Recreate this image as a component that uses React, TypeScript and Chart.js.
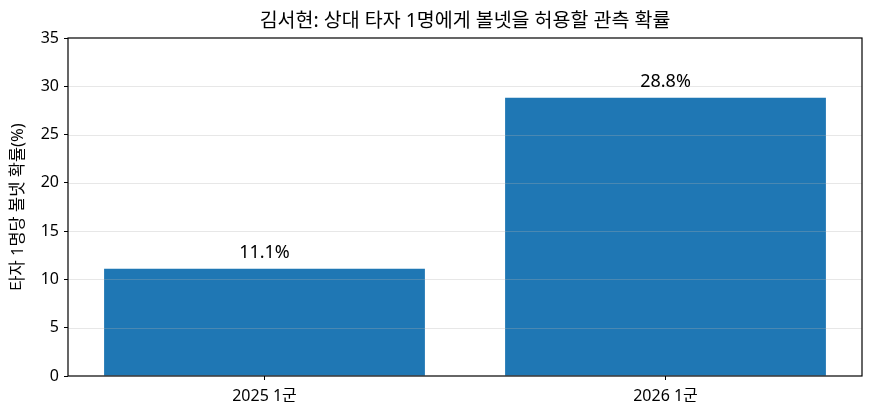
import React, { useEffect, useRef } from 'react';
import Chart from 'chart.js/auto';

const chartTitle = '김서현: 상대 타자 1명에게 볼넷을 허용할 관측 확률';
const yAxisTitle = '타자 1명당 볼넷 확률(%)';
const categories = ['2025 1군', '2026 1군'];
const walkRates = [11.1, 28.8];
const yTicks = [0, 5, 10, 15, 20, 25, 30, 35];

const FONT = "'Noto Sans', 'Noto Sans CJK KR', sans-serif";

const App: React.FC = () => {
    const chartRef = useRef<HTMLCanvasElement>(null);
    const chartInstance = useRef<Chart | null>(null);

    useEffect(() => {
        if (!chartRef.current) return;
        if (chartInstance.current) chartInstance.current.destroy();
        const ctx = chartRef.current.getContext('2d');
        if (!ctx) return;

        // grid above bars, box frame, value labels, title
        const overlay = {
            id: 'overlay',
            afterDatasetsDraw(chart: any) {
                const { ctx, chartArea, scales } = chart;
                const y = scales.y;
                ctx.save();
                ctx.strokeStyle = 'rgba(176,176,176,0.3)';
                ctx.lineWidth = 1;
                yTicks.forEach((t) => {
                    if (t === 0 || t === 35) return;
                    const py = Math.round(y.getPixelForValue(t)) + 0.5;
                    ctx.beginPath();
                    ctx.moveTo(chartArea.left, py);
                    ctx.lineTo(chartArea.right, py);
                    ctx.stroke();
                });
                ctx.strokeStyle = '#000';
                ctx.lineWidth = 1.2;
                ctx.strokeRect(chartArea.left, chartArea.top, chartArea.right - chartArea.left, chartArea.bottom - chartArea.top);

                const meta = chart.getDatasetMeta(0);
                ctx.fillStyle = '#000';
                ctx.font = `18px ${FONT}`;
                ctx.textAlign = 'center';
                ctx.textBaseline = 'alphabetic';
                meta.data.forEach((bar: any, i: number) => {
                    ctx.fillText(`${walkRates[i].toFixed(1)}%`, bar.x, bar.y - 11);
                });

                ctx.font = `19.5px ${FONT}`;
                ctx.textBaseline = 'middle';
                ctx.fillText(chartTitle, (chartArea.left + chartArea.right) / 2, 21);
                ctx.restore();
            },
        };

        chartInstance.current = new Chart(ctx, {
            type: 'bar',
            data: {
                datasets: [
                    {
                        data: walkRates.map((v, i) => ({ x: i, y: v })),
                        backgroundColor: '#1f77b4',
                        borderWidth: 0,
                        barPercentage: 0.8,
                        categoryPercentage: 1,
                    },
                ],
            },
            options: {
                responsive: false,
                animation: false,
                layout: { padding: { left: 0, top: 38, right: 12, bottom: 0 } },
                plugins: {
                    legend: { display: false },
                    tooltip: { enabled: false },
                    title: { display: false },
                },
                scales: {
                    x: {
                        type: 'linear',
                        min: -0.49,
                        max: 1.49,
                        offset: false,
                        afterBuildTicks: (scale: any) => {
                            scale.ticks = categories.map((_, i) => ({ value: i }));
                        },
                        grid: { drawOnChartArea: false, offset: false, tickLength: 4, color: '#000', tickWidth: 1 },
                        border: { display: false },
                        ticks: {
                            color: '#000',
                            font: { family: FONT, size: 16 },
                            padding: 7,
                            callback: (v: any) => categories[Number(v)] ?? '',
                        },
                        afterFit: (scale: any) => {
                            scale.height = 41;
                        },
                    },
                    y: {
                        min: 0,
                        max: 35,
                        afterBuildTicks: (scale: any) => {
                            scale.ticks = yTicks.map((v) => ({ value: v }));
                        },
                        grid: { drawOnChartArea: false, tickLength: 4, color: '#000', tickWidth: 1 },
                        border: { display: false },
                        ticks: { color: '#000', font: { family: FONT, size: 16 }, padding: 5 },
                        title: {
                            display: true,
                            text: yAxisTitle,
                            color: '#000',
                            font: { family: FONT, size: 16.5 },
                            padding: { top: 8, bottom: 0 },
                        },
                        afterFit: (scale: any) => {
                            scale.width = 68;
                        },
                    },
                },
            },
            plugins: [overlay],
        });

        return () => {
            chartInstance.current?.destroy();
        };
    }, []);

    return (
        <div style={{ position: 'fixed', left: 0, top: 0, width: 874, height: 417, background: '#fff' }}>
            <canvas ref={chartRef} width={874} height={417} style={{ width: 874, height: 417 }}></canvas>
        </div>
    );
};

export default App;
